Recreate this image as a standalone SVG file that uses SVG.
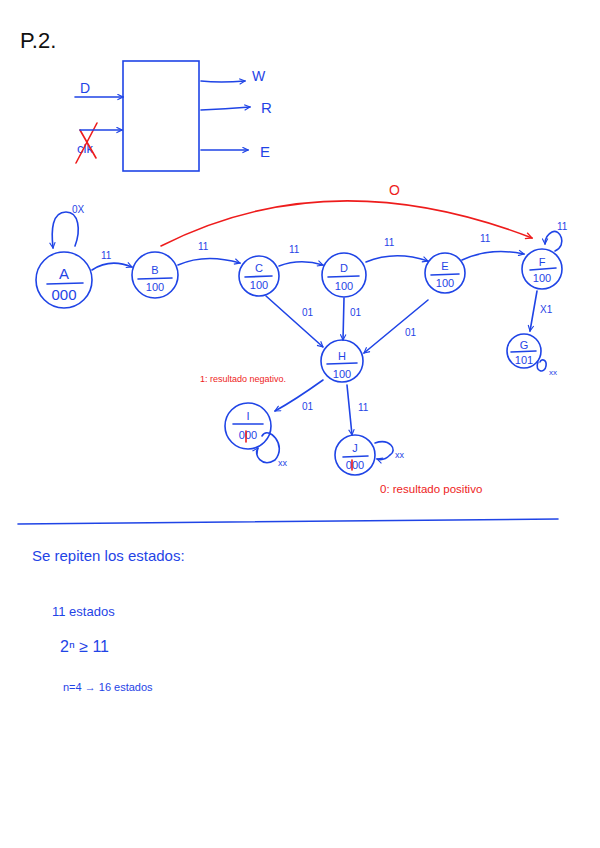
<svg xmlns="http://www.w3.org/2000/svg" width="600" height="848" viewBox="0 0 600 848">
<style>
.b{fill:none;stroke:#1f44e6;stroke-width:1.6;stroke-linecap:round}
.r{fill:none;stroke:#ee1c1c;stroke-width:1.6;stroke-linecap:round}
.tb{fill:#1f44e6;font-family:"Liberation Sans",Arial,sans-serif}
.tr{fill:#ee1c1c;font-family:"Liberation Sans",Arial,sans-serif}
.tk{fill:#111;font-family:"Liberation Sans",Arial,sans-serif}
.n{font-size:11px;text-anchor:middle}
.l{font-size:10px}
</style>
<defs>
<marker id="ab" viewBox="0 0 10 10" refX="9" refY="5" markerWidth="7" markerHeight="7" orient="auto" markerUnits="userSpaceOnUse"><path d="M1,1 L9,5 L1,9" fill="none" stroke="#1f44e6" stroke-width="1.6"/></marker>
<marker id="ar" viewBox="0 0 10 10" refX="9" refY="5" markerWidth="8" markerHeight="8" orient="auto" markerUnits="userSpaceOnUse"><path d="M1,1 L9,5 L1,9" fill="none" stroke="#ee1c1c" stroke-width="1.6"/></marker>
</defs>
<rect width="600" height="848" fill="#fff"/>
<text class="tk" x="20" y="48" font-size="22">P.2.</text>
<g id="block">
<rect x="123" y="61" width="76" height="110" class="b"/>
<text class="tb" x="80" y="93" font-size="14">D</text>
<text class="tb" x="77" y="153" font-size="13">clk</text>
<text class="tb" x="252" y="81" font-size="14">W</text>
<text class="tb" x="261" y="113" font-size="15">R</text>
<text class="tb" x="260" y="157" font-size="15">E</text>
<path class="r" d="M97,123 L76,163 M80,130 L96,158"/>
</g>
<g id="connectors">
<path class="b" d="M75,97 L123,97" marker-end="url(#ab)"/>
<path class="b" d="M80,130 L122,130" marker-end="url(#ab)"/>
<path class="b" d="M201,81 Q220,83 245,81" marker-end="url(#ab)"/>
<path class="b" d="M201,110 Q225,109 250,107" marker-end="url(#ab)"/>
<path class="b" d="M201,150 L248,150" marker-end="url(#ab)"/>
<path class="b" d="M75,246 C81,230 79,212 66,212 C52,212 51,230 53,248" marker-end="url(#ab)"/>
<path class="b" d="M92,270 Q110,258 132,267" marker-end="url(#ab)"/>
<path class="b" d="M178,265 Q205,253 240,263" marker-end="url(#ab)"/>
<path class="b" d="M279,266 Q300,258 323,265" marker-end="url(#ab)"/>
<path class="b" d="M366,262 Q395,250 428,261" marker-end="url(#ab)"/>
<path class="b" d="M462,260 Q490,247 524,254" marker-end="url(#ab)"/>
<path class="b" d="M555,251 C568,245 560,228 552,232 C548,234 545,238 545,244" marker-end="url(#ab)"/>
<path class="r" d="M161,246 Q330,160 532,238" marker-end="url(#ar)"/>
<path class="b" d="M537,291 L530,331" marker-end="url(#ab)"/>
<path class="b" d="M538,362 C534,372 545,374 546,366 C547,360 542,358 540,362"/>
<path class="b" d="M266,296 L323,347" marker-end="url(#ab)"/>
<path class="b" d="M344,298 L343,340" marker-end="url(#ab)"/>
<path class="b" d="M428,300 L364,353" marker-end="url(#ab)"/>
<path class="b" d="M323,380 Q295,400 275,411" marker-end="url(#ab)"/>
<path class="b" d="M347,385 L352,435" marker-end="url(#ab)"/>
<path class="b" d="M262,436 C268,425 288,445 275,460 C262,468 253,455 258,448" marker-end="url(#ab)"/>
<path class="b" d="M375,443 C390,438 398,450 390,455 C385,460 380,460 377,459" marker-end="url(#ab)"/>
</g>
<g id="A"><circle cx="64" cy="280" r="28" class="b"/><path class="b" d="M47,284 L83,283"/><text class="tb" x="64" y="279" font-size="15" text-anchor="middle">A</text><text class="tb" x="64" y="300" font-size="15" text-anchor="middle">000</text></g>
<g id="B"><circle cx="155" cy="275" r="23" class="b"/><path class="b" d="M138,279 L172,278"/><text class="tb n" x="155" y="274">B</text><text class="tb n" x="155" y="291">100</text></g>
<g id="C"><circle cx="259" cy="276" r="20" class="b"/><path class="b" d="M245,277 L272,276"/><text class="tb n" x="259" y="272">C</text><text class="tb n" x="259" y="289">100</text></g>
<g id="D"><circle cx="344" cy="275" r="22" class="b"/><path class="b" d="M328,277 L359,276"/><text class="tb n" x="344" y="272">D</text><text class="tb n" x="344" y="290">100</text></g>
<g id="E"><circle cx="445" cy="273" r="20" class="b"/><path class="b" d="M431,275 L459,274"/><text class="tb n" x="445" y="270">E</text><text class="tb n" x="445" y="287">100</text></g>
<g id="F"><circle cx="542" cy="269" r="20" class="b"/><path class="b" d="M530,270 L556,268"/><text class="tb n" x="542" y="266">F</text><text class="tb n" x="542" y="282">100</text></g>
<g id="G"><circle cx="524" cy="351" r="17" class="b"/><path class="b" d="M511,352 L536,351"/><text class="tb n" x="524" y="349">G</text><text class="tb n" x="524" y="364">101</text></g>
<g id="H"><circle cx="342" cy="361" r="21" class="b"/><path class="b" d="M327,364 L357,363"/><text class="tb n" x="342" y="360">H</text><text class="tb n" x="342" y="378">100</text></g>
<g id="I"><circle cx="248" cy="426" r="23" class="b"/><path class="b" d="M233,424 L263,424"/><text class="tb n" x="248" y="420">I</text><text class="tb n" x="248" y="439">000</text><path class="r" d="M246,431 L246,442"/></g>
<g id="J"><circle cx="355" cy="455" r="20" class="b"/><path class="b" d="M343,457 L368,456"/><text class="tb n" x="355" y="452">J</text><text class="tb n" x="355" y="469">000</text><path class="r" d="M352,460 L352,470" stroke-width="2.5"/></g>
<g id="labels">
<text class="tb l" x="72" y="213">0X</text>
<text class="tb l" x="101" y="259">11</text>
<text class="tb l" x="198" y="250">11</text>
<text class="tb l" x="289" y="253">11</text>
<text class="tb l" x="384" y="246">11</text>
<text class="tb l" x="480" y="242">11</text>
<text class="tb l" x="557" y="230">11</text>
<text class="tr" x="389" y="195" font-size="14">O</text>
<text class="tb l" x="540" y="313">X1</text>
<text class="tb" x="549" y="375" font-size="8">xx</text>
<text class="tb l" x="302" y="316">01</text>
<text class="tb l" x="350" y="316">01</text>
<text class="tb l" x="405" y="336">01</text>
<text class="tb l" x="302" y="410">01</text>
<text class="tb l" x="358" y="411">11</text>
<text class="tb" x="278" y="466" font-size="9">xx</text>
<text class="tb" x="395" y="458" font-size="9">xx</text>
<text class="tr" x="200" y="382" font-size="9">1: resultado negativo.</text>
<text class="tr" x="380" y="493" font-size="11.5">0: resultado positivo</text>
</g>
<path class="b" d="M18,524 L558,519"/>
<text class="tb" x="32" y="561" font-size="15">Se repiten los estados:</text>
<text class="tb" x="52" y="616" font-size="13">11 estados</text>
<text class="tb" x="60" y="652" font-size="16">2ⁿ ≥ 11</text>
<text class="tb" x="63" y="691" font-size="11">n=4 → 16 estados</text>
</svg>
